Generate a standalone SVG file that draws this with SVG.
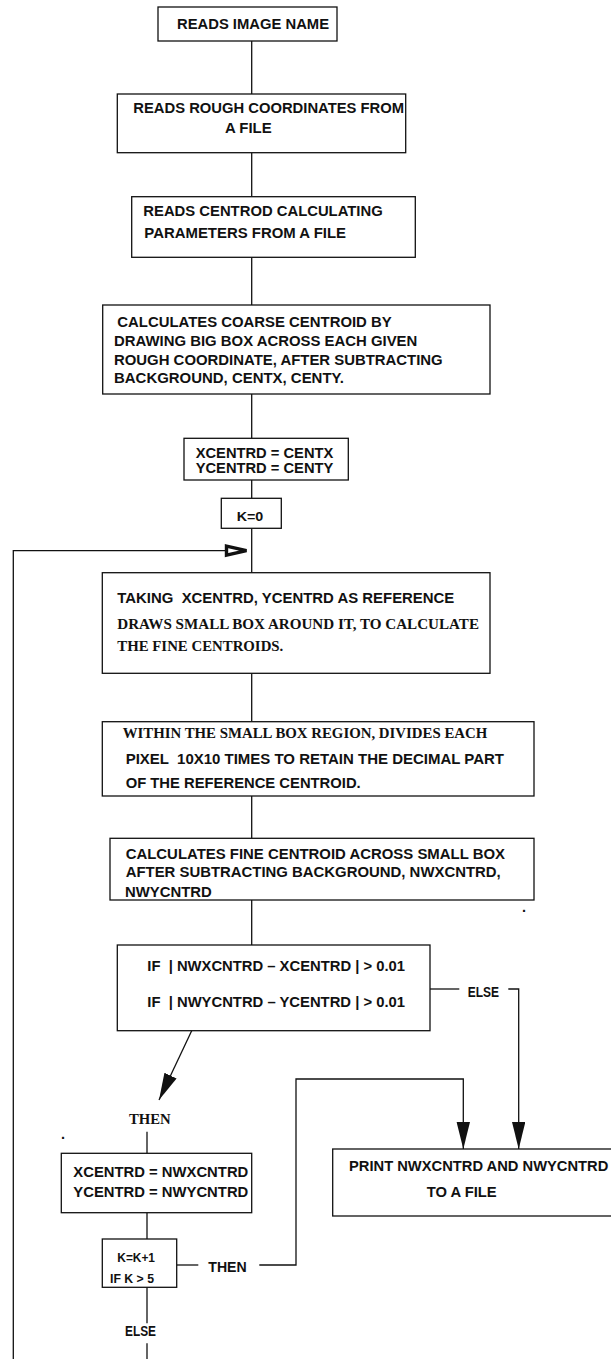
<svg xmlns="http://www.w3.org/2000/svg" width="611" height="1359" viewBox="0 0 611 1359">
<style>
.box{fill:#fff;stroke:#111;stroke-width:1.3}
.ln{fill:none;stroke:#111;stroke-width:1.3}
.a{font-family:"Liberation Sans",Arial,sans-serif;font-weight:bold;font-size:14.5px;fill:#111}
.t{font-family:"Liberation Serif","Times New Roman",serif;font-weight:bold;font-size:14.5px;fill:#111}
.s{font-size:13px}
</style>
<defs>
<marker id="arr" markerUnits="userSpaceOnUse" markerWidth="28" markerHeight="14" refX="27" refY="6.7" orient="auto">
<path d="M0,0 L27,6.7 L0,13.4 z" fill="#111"/>
</marker>
</defs>
<rect width="611" height="1359" fill="#fff"/>
<g id="connectors">
<line class="ln" x1="251.7" y1="41" x2="251.7" y2="94"/>
<line class="ln" x1="251.7" y1="152.7" x2="251.7" y2="196.7"/>
<line class="ln" x1="251.7" y1="257.3" x2="251.7" y2="305"/>
<line class="ln" x1="251.7" y1="394" x2="251.7" y2="438.3"/>
<line class="ln" x1="251.7" y1="480" x2="251.7" y2="498.3"/>
<line class="ln" x1="251.7" y1="528.3" x2="251.7" y2="572.7"/>
<line class="ln" x1="251.7" y1="673.3" x2="251.7" y2="721.7"/>
<line class="ln" x1="251.7" y1="796" x2="251.7" y2="838.3"/>
<line class="ln" x1="251.7" y1="900" x2="251.7" y2="945"/>
<path class="ln" d="M13.3,1359 V550.7 H226"/>
<polygon points="226.5,546.2 246.5,550.7 226.5,555.2" fill="#fff" stroke="#111" stroke-width="3.4" stroke-linejoin="miter"/>
<line class="ln" x1="430" y1="989" x2="459.3" y2="989"/>
<text class="a" x="467.7" y="996.7" textLength="31.3" lengthAdjust="spacingAndGlyphs">ELSE</text>
<path class="ln" d="M508.3,989 H518.7 V1149" marker-end="url(#arr)"/>
<line class="ln" x1="191.7" y1="1030.7" x2="159" y2="1100" marker-end="url(#arr)"/>
<text class="t" x="129" y="1124" textLength="41.7" lengthAdjust="spacingAndGlyphs">THEN</text>
<line class="ln" x1="147" y1="1131.7" x2="147" y2="1153.3"/>
<line class="ln" x1="147" y1="1212.7" x2="147" y2="1239"/>
<line class="ln" x1="176.7" y1="1265" x2="198.3" y2="1265"/>
<text class="a" x="208.3" y="1271.7" textLength="38.4" lengthAdjust="spacingAndGlyphs">THEN</text>
<path class="ln" d="M259.3,1265 H296 V1079 H463.3 V1149" marker-end="url(#arr)"/>
<line class="ln" x1="147" y1="1287.3" x2="147" y2="1323.3"/>
<text class="a" x="125" y="1335.7" textLength="31" lengthAdjust="spacingAndGlyphs">ELSE</text>
<line class="ln" x1="147" y1="1343.3" x2="147" y2="1359"/>
<text class="a" x="522" y="912" font-size="7">.</text>
<text class="a" x="61" y="1139" font-size="7">.</text>
</g>
<g id="n1">
<rect class="box" x="158" y="7" width="179" height="34"/>
<text class="a" x="177" y="29" textLength="152" lengthAdjust="spacingAndGlyphs">READS IMAGE NAME</text>
</g>
<g id="n2">
<rect class="box" x="117.3" y="94" width="288.4" height="58.7"/>
<text class="a" x="133.3" y="112.7" textLength="270.7" lengthAdjust="spacingAndGlyphs">READS ROUGH COORDINATES FROM</text>
<text class="a" x="225" y="133.3" textLength="46.7" lengthAdjust="spacingAndGlyphs">A FILE</text>
</g>
<g id="n3">
<rect class="box" x="131.7" y="196.7" width="283.6" height="60.6"/>
<text class="a" x="143.3" y="215.7" textLength="239.4" lengthAdjust="spacingAndGlyphs">READS CENTROD CALCULATING</text>
<text class="a" x="144.3" y="237.7" textLength="201.7" lengthAdjust="spacingAndGlyphs">PARAMETERS FROM A FILE</text>
</g>
<g id="n4">
<rect class="box" x="102.7" y="305" width="387.3" height="89"/>
<text class="a" x="117.3" y="327.3" textLength="274.4" lengthAdjust="spacingAndGlyphs">CALCULATES COARSE CENTROID BY</text>
<text class="a" x="114" y="346.3" textLength="303.3" lengthAdjust="spacingAndGlyphs">DRAWING BIG BOX ACROSS EACH GIVEN</text>
<text class="a" x="114" y="365.3" textLength="328.7" lengthAdjust="spacingAndGlyphs">ROUGH COORDINATE, AFTER SUBTRACTING</text>
<text class="a" x="114" y="383.3" textLength="230" lengthAdjust="spacingAndGlyphs">BACKGROUND, CENTX, CENTY.</text>
</g>
<g id="n5">
<rect class="box" x="184" y="438.3" width="164.3" height="41.7"/>
<text class="a" x="195.7" y="458.3" textLength="137.6" lengthAdjust="spacingAndGlyphs">XCENTRD = CENTX</text>
<text class="a" x="195.7" y="473.3" textLength="137.6" lengthAdjust="spacingAndGlyphs">YCENTRD = CENTY</text>
</g>
<g id="n6">
<rect class="box" x="221.3" y="498.3" width="60" height="30"/>
<text class="a s" x="236.7" y="521" textLength="26.6" lengthAdjust="spacingAndGlyphs">K=0</text>
</g>
<g id="n7">
<rect class="box" x="102.3" y="572.7" width="387.7" height="100.6"/>
<text class="a" x="117.3" y="602.7" textLength="337" lengthAdjust="spacingAndGlyphs" xml:space="preserve">TAKING  XCENTRD, YCENTRD AS REFERENCE</text>
<text class="t" x="117.3" y="629.3" textLength="361.7" lengthAdjust="spacingAndGlyphs">DRAWS SMALL BOX AROUND IT, TO CALCULATE</text>
<text class="t" x="117.3" y="650.7" textLength="166" lengthAdjust="spacingAndGlyphs">THE FINE CENTROIDS.</text>
</g>
<g id="n8">
<rect class="box" x="102.3" y="721.7" width="431.7" height="74.3"/>
<text class="t" x="122.7" y="738.3" textLength="364.6" lengthAdjust="spacingAndGlyphs">WITHIN THE SMALL BOX REGION, DIVIDES EACH</text>
<text class="a" x="125.7" y="764.3" textLength="378.3" lengthAdjust="spacingAndGlyphs" xml:space="preserve">PIXEL  10X10 TIMES TO RETAIN THE DECIMAL PART</text>
<text class="a" x="125.7" y="788.3" textLength="235" lengthAdjust="spacingAndGlyphs">OF THE REFERENCE CENTROID.</text>
</g>
<g id="n9">
<rect class="box" x="110" y="838.3" width="424" height="61.7"/>
<text class="a" x="125.7" y="859.3" textLength="379.3" lengthAdjust="spacingAndGlyphs">CALCULATES FINE CENTROID ACROSS SMALL BOX</text>
<text class="a" x="125.7" y="876.7" textLength="375" lengthAdjust="spacingAndGlyphs">AFTER SUBTRACTING BACKGROUND, NWXCNTRD,</text>
<text class="a" x="125" y="896.7" textLength="86.7" lengthAdjust="spacingAndGlyphs">NWYCNTRD</text>
</g>
<g id="n10">
<rect class="box" x="117.3" y="945" width="312.7" height="85.7"/>
<text class="a" x="147.3" y="971" textLength="257.7" lengthAdjust="spacingAndGlyphs" xml:space="preserve">IF  | NWXCNTRD – XCENTRD | &gt; 0.01</text>
<text class="a" x="147.3" y="1007.3" textLength="257.7" lengthAdjust="spacingAndGlyphs" xml:space="preserve">IF  | NWYCNTRD – YCENTRD | &gt; 0.01</text>
</g>
<g id="n11">
<rect class="box" x="61.3" y="1153.3" width="190.4" height="59.4"/>
<text class="a" x="73.3" y="1176.7" textLength="175" lengthAdjust="spacingAndGlyphs">XCENTRD = NWXCNTRD</text>
<text class="a" x="73.3" y="1197.3" textLength="175" lengthAdjust="spacingAndGlyphs">YCENTRD = NWYCNTRD</text>
</g>
<g id="n12">
<rect class="box" x="102.3" y="1239" width="74.4" height="48.3"/>
<text class="a s" x="117.3" y="1261.7" textLength="37.7" lengthAdjust="spacingAndGlyphs">K=K+1</text>
<text class="a s" x="110" y="1283.3" textLength="44" lengthAdjust="spacingAndGlyphs">IF K &gt; 5</text>
</g>
<g id="n13">
<rect class="box" x="332.7" y="1149" width="290" height="67"/>
<text class="a" x="349" y="1171" textLength="259.3" lengthAdjust="spacingAndGlyphs">PRINT NWXCNTRD AND NWYCNTRD</text>
<text class="a" x="426.7" y="1197.3" textLength="70" lengthAdjust="spacingAndGlyphs">TO A FILE</text>
</g>
</svg>
